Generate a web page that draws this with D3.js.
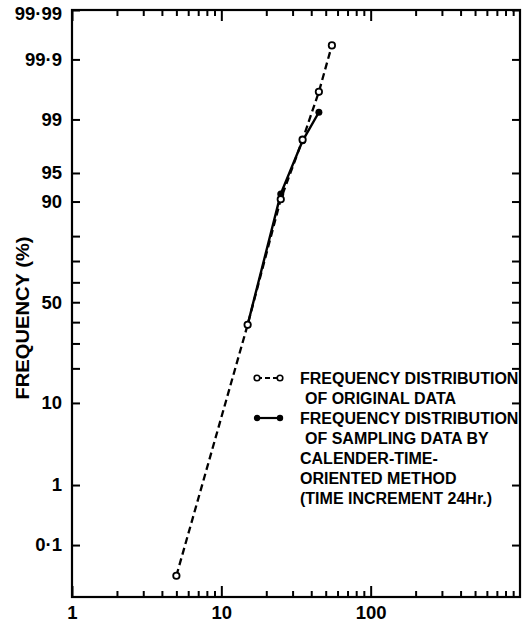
<!DOCTYPE html>
<html>
<head>
<meta charset="utf-8">
<script src="https://cdn.jsdelivr.net/npm/d3@7"></script>
<style>
  html, body { margin: 0; padding: 0; background: #fff; }
  svg { display: block; }
  text { font-family: "Liberation Sans", Arial, sans-serif; font-weight: bold; fill: #000; }
</style>
</head>
<body>
<svg id="chart" width="529" height="629"></svg>
<script>
// ---- data ----
const originalX = [5, 15, 25, 35, 45, 55];
const originalPct = [0.025, 38.7, 90.5, 98.07, 99.63, 99.946];
const samplingX = [15, 25, 35, 45];
const samplingPct = [38.7, 91.6, 98.0, 99.22];

const yTickValues = [99.99, 99.9, 99, 95, 90, 50, 10, 1, 0.1];
const yTickLabels = ["99·99", "99·9", "99", "95", "90", "50", "10", "1", "0·1"];
const yMinorValues = [80, 70, 60, 40, 30, 20];
const xMajorValues = [1, 10, 100];
const xMajorLabels = ["1", "10", "100"];
const xMinorValues = [2,3,4,5,6,7,8,9,20,30,40,50,60,70,80,90,200,300,400,500,600,700,800,900];

const legendLines = [
  "FREQUENCY DISTRIBUTION",
  "OF ORIGINAL DATA",
  "FREQUENCY DISTRIBUTION",
  "OF SAMPLING DATA BY",
  "CALENDER-TIME-",
  "ORIENTED METHOD",
  "(TIME INCREMENT 24Hr.)"
];

// inverse normal CDF (Acklam) for probability-paper axis
function probit(p) {
  const a=[-3.969683028665376e+01,2.209460984245205e+02,-2.759285104469687e+02,1.383577518672690e+02,-3.066479806614716e+01,2.506628277459239e+00];
  const b=[-5.447609879822406e+01,1.615858368580409e+02,-1.556989798598866e+02,6.680131188771972e+01,-1.328068155288572e+01];
  const c=[-7.784894002430293e-03,-3.223964580411365e-01,-2.400758277161838e+00,-2.549732539343734e+00,4.374664141464968e+00,2.938163982698783e+00];
  const d=[7.784695709041462e-03,3.224671290700398e-01,2.445134137142996e+00,3.754408661907416e+00];
  const plow = 0.02425, phigh = 1 - plow;
  let q, r;
  if (p < plow) {
    q = Math.sqrt(-2*Math.log(p));
    return (((((c[0]*q+c[1])*q+c[2])*q+c[3])*q+c[4])*q+c[5]) / ((((d[0]*q+d[1])*q+d[2])*q+d[3])*q+1);
  } else if (p <= phigh) {
    q = p - 0.5; r = q*q;
    return (((((a[0]*r+a[1])*r+a[2])*r+a[3])*r+a[4])*r+a[5])*q / (((((b[0]*r+b[1])*r+b[2])*r+b[3])*r+b[4])*r+1);
  } else {
    q = Math.sqrt(-2*Math.log(1-p));
    return -(((((c[0]*q+c[1])*q+c[2])*q+c[3])*q+c[4])*q+c[5]) / ((((d[0]*q+d[1])*q+d[2])*q+d[3])*q+1);
  }
}
const z = pct => probit(pct / 100);

// ---- layout ----
const L = 72, R = 520, T = 10, B = 597;
const svg = d3.select("#chart");

const x = d3.scaleLog().domain([1, 1000]).range([L, R]);
const yz = d3.scaleLinear().domain([probit(0.0000880), z(99.99)]).range([B, T]);
const y = pct => yz(z(pct));

// ---- axes ----
function styleAxis(g) {
  g.select(".domain").remove();
  g.selectAll(".tick line").attr("stroke", "#000").attr("stroke-width", 2);
  g.selectAll(".tick text").attr("font-size", 18.5).attr("fill", "#000")
    .attr("font-family", "'Liberation Sans', Arial, sans-serif").attr("font-weight", "bold");
}

// bottom
svg.append("g").attr("transform", `translate(0,${B})`)
  .call(d3.axisBottom(x).tickValues(xMajorValues).tickSize(-11).tickPadding(9)
    .tickFormat((d, i) => xMajorLabels[i]))
  .call(styleAxis);
svg.append("g").attr("transform", `translate(0,${B})`)
  .call(d3.axisBottom(x).tickValues(xMinorValues).tickSize(-6).tickFormat(""))
  .call(styleAxis);
// top
svg.append("g").attr("transform", `translate(0,${T})`)
  .call(d3.axisTop(x).tickValues(xMajorValues).tickSize(-11).tickFormat(""))
  .call(styleAxis);
svg.append("g").attr("transform", `translate(0,${T})`)
  .call(d3.axisTop(x).tickValues(xMinorValues).tickSize(-6).tickFormat(""))
  .call(styleAxis);
// left
svg.append("g").attr("transform", `translate(${L},0)`)
  .call(d3.axisLeft(yz).tickValues(yTickValues.map(z)).tickSize(-8).tickPadding(10)
    .tickFormat((d, i) => yTickLabels[i]))
  .call(styleAxis)
  .call(g => g.selectAll(".tick text").filter((d, i) => i === 0).attr("dy", "0.5em"));
svg.append("g").attr("transform", `translate(${L},0)`)
  .call(d3.axisLeft(yz).tickValues(yMinorValues.map(z)).tickSize(-8).tickFormat(""))
  .call(styleAxis);
// right
svg.append("g").attr("transform", `translate(${R},0)`)
  .call(d3.axisRight(yz).tickValues(yTickValues.concat(yMinorValues).map(z)).tickSize(-8).tickFormat(""))
  .call(styleAxis);

// frame
svg.append("rect").attr("x", L).attr("y", T).attr("width", R - L).attr("height", B - T)
  .attr("fill", "none").attr("stroke", "#000").attr("stroke-width", 2.2);

// y title
svg.append("text")
  .attr("transform", `translate(29,318) rotate(-90)`)
  .attr("text-anchor", "middle")
  .attr("font-size", 19)
  .attr("textLength", 163).attr("lengthAdjust", "spacingAndGlyphs")
  .text("FREQUENCY (%)");

// ---- series ----
const line = d3.line().x(d => x(d[0])).y(d => y(d[1]));
const orig = originalX.map((v, i) => [v, originalPct[i]]);
const samp = samplingX.map((v, i) => [v, samplingPct[i]]);

svg.append("path").datum(samp).attr("d", line)
  .attr("fill", "none").attr("stroke", "#000").attr("stroke-width", 2.4);
svg.append("path").datum(orig).attr("d", line)
  .attr("fill", "none").attr("stroke", "#000").attr("stroke-width", 2.3)
  .attr("stroke-dasharray", "7,4");

svg.selectAll(".samp").data(samp).join("circle")
  .attr("cx", d => x(d[0])).attr("cy", d => y(d[1])).attr("r", 3.5)
  .attr("fill", "#000");
svg.selectAll(".orig").data(orig).join("circle")
  .attr("cx", d => x(d[0])).attr("cy", d => y(d[1])).attr("r", 3.2)
  .attr("fill", "#fff").attr("stroke", "#000").attr("stroke-width", 1.8);

// ---- legend ----
const lg = svg.append("g");
const symX1 = 257, symX2 = 280;
lg.append("line").attr("x1", symX1).attr("x2", symX2).attr("y1", 378).attr("y2", 378)
  .attr("stroke", "#000").attr("stroke-width", 2).attr("stroke-dasharray", "5,3");
[symX1, symX2].forEach(cx => lg.append("circle").attr("cx", cx).attr("cy", 378).attr("r", 2.8)
  .attr("fill", "#fff").attr("stroke", "#000").attr("stroke-width", 1.6));
lg.append("line").attr("x1", symX1).attr("x2", symX2).attr("y1", 418).attr("y2", 418)
  .attr("stroke", "#000").attr("stroke-width", 2.2);
[symX1, symX2].forEach(cx => lg.append("circle").attr("cx", cx).attr("cy", 418).attr("r", 3.2)
  .attr("fill", "#000"));

const legendX = [300, 305, 300, 305, 300, 300, 300];
lg.selectAll(".lt").data(legendLines).join("text")
  .attr("x", (d, i) => legendX[i])
  .attr("y", (d, i) => 384 + i * 20)
  .attr("font-size", 16)
  .text(d => d);
</script>
</body>
</html>
